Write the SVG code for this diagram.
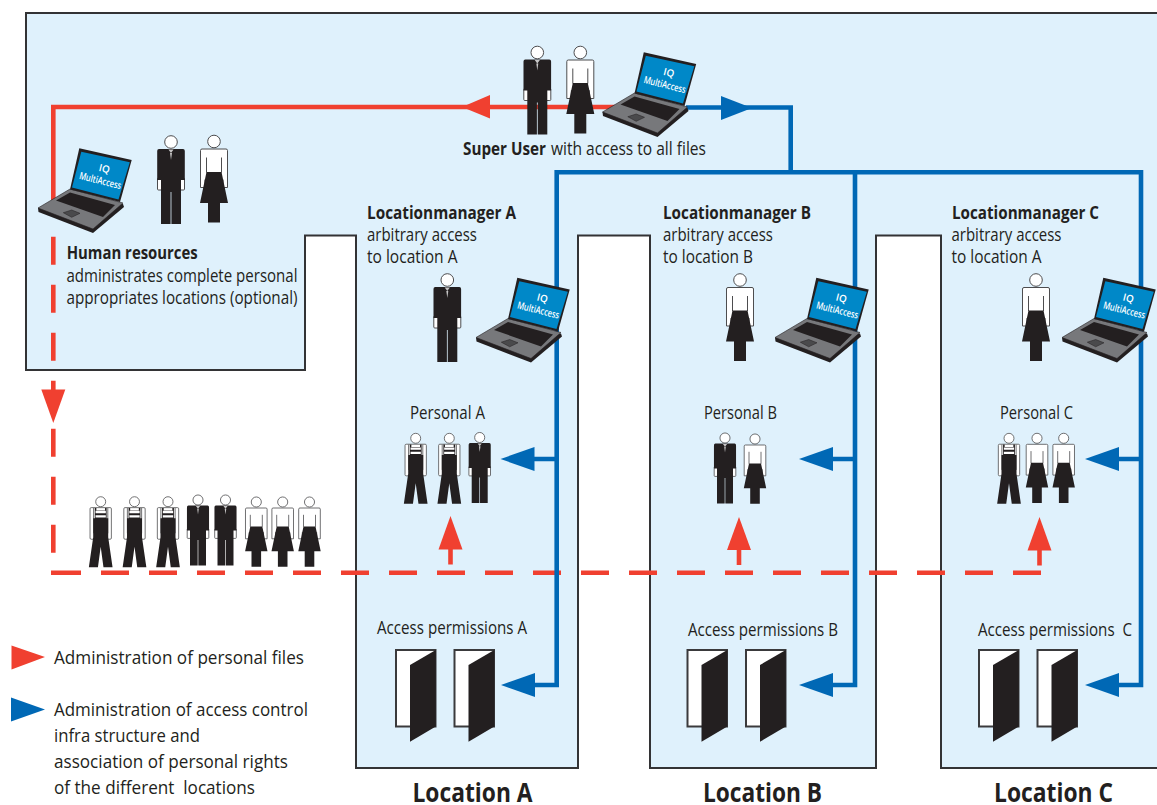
<svg xmlns="http://www.w3.org/2000/svg" width="1157" height="805" viewBox="0 0 1157 805">
<style>
text{font-family:"Open Sans","Noto Sans","Liberation Sans",sans-serif;font-size:17.500px;fill:#231f20}
.b{font-weight:700}
.loc{font-weight:700;font-size:27px}
.leg{font-size:19px}
.scr{font-size:10px;font-weight:600;fill:#fff;text-anchor:middle}
.dk{fill:#231f20}
.wh{fill:#fff;stroke:#4d4d4f;stroke-width:1}
.red{fill:none;stroke:#f04030;stroke-width:4.6}
.blue{fill:none;stroke:#0068b5;stroke-width:4.6}
.redf{fill:#f04030}
.bluef{fill:#0068b5}
.dash{stroke-dasharray:28 20}
</style>
<defs>
<g id="man">
<circle cx="0" cy="0" r="6.300" class="wh"/>
<rect x="-13.500" y="36" width="5" height="12" rx="1" class="wh"/>
<rect x="8.500" y="36" width="5" height="12" rx="1" class="wh"/>
<path class="dk" d="M-12 7H12Q13.800 7 13.800 9V38H10V82H0.400V50H-0.400V82H-10V38H-13.800V9Q-13.800 7 -12 7Z"/>
<path fill="#fff" d="M-2.600 7.500L0 11L2.600 7.500ZM-1 11L0 18L1 11Z" opacity=".75"/>
</g>
<g id="woman">
<circle cx="0" cy="0" r="6.300" class="wh"/>
<path class="wh" d="M-12 7.500H12Q13.500 7.500 13.500 9V46H9V38H-9V46H-13.500V9Q-13.500 7.500 -12 7.500Z"/>
<path fill="none" stroke="#4d4d4f" d="M-7.500 16V31M7.500 16V31"/>
<path class="dk" d="M-7.500 30.500H7.500L14 61.500H6V81H-6V61.500H-14Z"/>
</g>
<g id="worker">
<circle cx="0" cy="0" r="6.300" class="wh"/>
<rect x="-13.500" y="7.500" width="27" height="40" rx="1.500" class="wh"/>
<path fill="none" stroke="#4d4d4f" d="M-9 8V40M9 8V40"/>
<path class="dk" d="M-7.500 8H-5.500V11H5.500V8H7.500V21H9.500V45L15 83H3.500L0 57L-3.500 83H-15L-9.500 45V21H-7.500Z"/>
<path fill="#fff" d="M-6.500 11.500H6.500V14.500H-6.500ZM-6.500 17H6.500V20H-6.500Z"/>
</g>
<g id="laptop">
<path class="dk" d="M38 208L38.500 212L93 233L124 207L123 204Z"/>
<path fill="#77787b" stroke="#231f20" stroke-width=".6" d="M38 208L70 189L123 203L93 229Z"/>
<path class="dk" d="M70 192.500L115 205L103 217L56 200.500Z"/>
<path fill="#4a4a4c" stroke="#231f20" stroke-width=".5" d="M63.300 212.700L71.700 210L80 213.300L71.700 217.300Z"/>
<path class="dk" d="M79.300 148.300L131.700 160L120 202L70 189.500Z"/>
<path fill="#0088c8" d="M81.300 151.700L129.800 162.200L118.500 199.500L72 187.500Z"/>
<text class="scr" transform="translate(103.500 172) rotate(14)">IQ</text>
<text class="scr" transform="translate(99.500 184) rotate(14)" textLength="43" lengthAdjust="spacingAndGlyphs">MultiAccess</text>
</g>
<g id="door">
<rect x="396" y="650" width="39.500" height="76.500" fill="#fff" stroke="#3a3a3c" stroke-width="2"/>
<path class="dk" d="M410 665L435.800 650V726.500L410 741.800Z"/>
</g>
</defs>

<path id="background" fill="#dff1fc" stroke="#333335" stroke-width="2" d="M1158 13H26V370H305V235.500H356V768H578V235.500H650V768H876V235.500H941V768H1158"/>

<g id="connectors">
<path class="red" d="M615 107H53.300V200"/>
<path class="red dash" d="M53.300 236.700V553"/>
<path class="red dash" d="M51 572.700H53"/>
<path class="red dash" d="M53 572.700H1041"/>
<path class="redf" d="M462 107L490 95V118.500Z"/>
<path class="redf" d="M41.300 389.500H65.300L53.300 423Z"/>
<path class="red" d="M450.500 549V564.500M739 549V565M1039.500 549V565.500"/>
<path class="redf" d="M450.500 516L462.500 549.500H438.500Z"/>
<path class="redf" d="M739 517L751 550H727Z"/>
<path class="redf" d="M1039.500 517L1051.500 550.500H1027.500Z"/>
<path class="blue" d="M686 107.500H790.700V172.300"/>
<path class="blue" d="M534 685H556.700V172.300H1141V685H1118"/>
<path class="blue" d="M832 685H855V172.300"/>
<path class="blue" d="M534 459H556M832 459H855M1118 459H1141"/>
<g class="bluef">
<path d="M752 108L721 96V120Z"/>
<path d="M500.500 459L534.500 447V471Z"/>
<path d="M799 459L833 447V471Z"/>
<path d="M1085 459L1119 447V471Z"/>
<path d="M501 685L535 673V697Z"/>
<path d="M799 685L833 673V697Z"/>
<path d="M1085 685L1119 673V697Z"/>
</g>
</g>

<g id="super-user">
<use href="#man" transform="translate(537.300 52.500)"/>
<use href="#woman" transform="translate(580.300 52.500)"/>
<use href="#laptop" transform="translate(564.500 -96)"/>
<text class="b" x="463" y="155" textLength="83" lengthAdjust="spacingAndGlyphs">Super User</text>
<text x="551" y="155" textLength="155" lengthAdjust="spacingAndGlyphs">with access to all files</text>
</g>
<g id="human-resources">
<use href="#laptop"/>
<use href="#man" transform="translate(171 142)"/>
<use href="#woman" transform="translate(214 141.500)"/>
<text class="b" x="66.700" y="259.300" textLength="131" lengthAdjust="spacingAndGlyphs">Human resources</text>
<text x="66.500" y="281.700" textLength="231" lengthAdjust="spacingAndGlyphs">administrates complete personal</text>
<text x="66.500" y="304" textLength="231" lengthAdjust="spacingAndGlyphs">appropriates locations (optional)</text>
</g>
<g id="all-personal">
<use href="#worker" transform="translate(100.700 501.700) scale(.79)"/>
<use href="#worker" transform="translate(134.500 501.700) scale(.79)"/>
<use href="#worker" transform="translate(168 501.700) scale(.79)"/>
<use href="#man" transform="translate(198 500) scale(.8)"/>
<use href="#man" transform="translate(225.500 500) scale(.8)"/>
<use href="#woman" transform="translate(256.300 502) scale(.8)"/>
<use href="#woman" transform="translate(282.700 502) scale(.8)"/>
<use href="#woman" transform="translate(309.500 502) scale(.8)"/>
</g>

<g id="location-a">
<text class="b" x="367" y="219" textLength="149" lengthAdjust="spacingAndGlyphs">Locationmanager A</text>
<text x="367" y="241" textLength="110" lengthAdjust="spacingAndGlyphs">arbitrary access</text>
<text x="367" y="263" textLength="90.500" lengthAdjust="spacingAndGlyphs">to location A</text>
<use href="#man" transform="translate(447.300 280)"/>
<use href="#laptop" transform="translate(438 129.500)"/>
<text x="410" y="419" textLength="75" lengthAdjust="spacingAndGlyphs">Personal A</text>
<use href="#worker" transform="translate(415.700 438.300) scale(.79)"/>
<use href="#worker" transform="translate(449.300 438.300) scale(.79)"/>
<use href="#man" transform="translate(479.700 437.500) scale(.8)"/>
<text x="377" y="634" textLength="150" lengthAdjust="spacingAndGlyphs">Access permissions A</text>
<use href="#door"/>
<use href="#door" transform="translate(58.500 0)"/>
<text class="loc" x="412.500" y="802" textLength="120" lengthAdjust="spacingAndGlyphs">Location A</text>
</g>
<g id="location-b">
<text class="b" x="663" y="219" textLength="148" lengthAdjust="spacingAndGlyphs">Locationmanager B</text>
<text x="663" y="241" textLength="110" lengthAdjust="spacingAndGlyphs">arbitrary access</text>
<text x="663" y="263" textLength="90" lengthAdjust="spacingAndGlyphs">to location B</text>
<use href="#woman" transform="translate(740 280)"/>
<use href="#laptop" transform="translate(737 129.500)"/>
<text x="704" y="419" textLength="73" lengthAdjust="spacingAndGlyphs">Personal B</text>
<use href="#man" transform="translate(725 438) scale(.8)"/>
<use href="#woman" transform="translate(755 439) scale(.8)"/>
<text x="688" y="636" textLength="150" lengthAdjust="spacingAndGlyphs">Access permissions B</text>
<use href="#door" transform="translate(291.500 0)"/>
<use href="#door" transform="translate(350 0)"/>
<text class="loc" x="703" y="802" textLength="119" lengthAdjust="spacingAndGlyphs">Location B</text>
</g>
<g id="location-c">
<text class="b" x="952" y="219" textLength="147" lengthAdjust="spacingAndGlyphs">Locationmanager C</text>
<text x="951.500" y="241" textLength="110" lengthAdjust="spacingAndGlyphs">arbitrary access</text>
<text x="951.500" y="263" textLength="90" lengthAdjust="spacingAndGlyphs">to location A</text>
<use href="#woman" transform="translate(1036 280)"/>
<use href="#laptop" transform="translate(1024 129.500)"/>
<text x="1000" y="419" textLength="73" lengthAdjust="spacingAndGlyphs">Personal C</text>
<use href="#worker" transform="translate(1009 438.300) scale(.79)"/>
<use href="#woman" transform="translate(1037 438.300) scale(.8)"/>
<use href="#woman" transform="translate(1063.700 438.300) scale(.8)"/>
<text x="978" y="636" textLength="154" lengthAdjust="spacingAndGlyphs" xml:space="preserve">Access permissions  C</text>
<use href="#door" transform="translate(583 0)"/>
<use href="#door" transform="translate(641.500 0)"/>
<text class="loc" x="994" y="802" textLength="119" lengthAdjust="spacingAndGlyphs">Location C</text>
</g>

<g id="legend">
<path class="redf" d="M11.500 645.500L45 657L11.500 669.500Z"/>
<text class="leg" x="54" y="664" textLength="250" lengthAdjust="spacingAndGlyphs">Administration of personal files</text>
<path class="bluef" d="M11 697.500L45 709.500L11 721.500Z"/>
<text class="leg" x="54" y="716" textLength="254" lengthAdjust="spacingAndGlyphs">Administration of access control</text>
<text class="leg" x="54" y="742" textLength="146" lengthAdjust="spacingAndGlyphs">infra structure and</text>
<text class="leg" x="54" y="768" textLength="234" lengthAdjust="spacingAndGlyphs">association of personal rights</text>
<text class="leg" x="54" y="794" textLength="201" lengthAdjust="spacingAndGlyphs" xml:space="preserve">of the different  locations</text>
</g>
</svg>
